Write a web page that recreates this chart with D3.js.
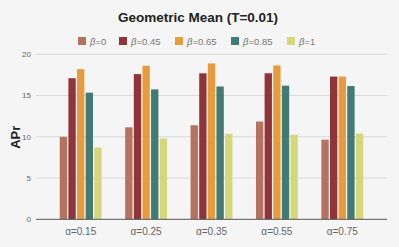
<!DOCTYPE html>
<html>
<head>
<meta charset="utf-8">
<script src="https://cdn.jsdelivr.net/npm/d3@7"></script>
<style>
  body { margin: 0; background: #f5f5f5; }
  svg { display: block; font-family: Arial, "Liberation Sans", sans-serif; }
</style>
</head>
<body>
<div id="chart"></div>
<script>
var categories = ['\u03b1=0.15', '\u03b1=0.25', '\u03b1=0.35', '\u03b1=0.55', '\u03b1=0.75'];
var seriesNames = ['0', '0.45', '0.65', '0.85', '1'];
var beta0 = [10.0, 11.15, 11.4, 11.85, 9.65];
var beta045 = [17.1, 17.6, 17.7, 17.7, 17.3];
var beta065 = [18.2, 18.6, 18.9, 18.65, 17.3];
var beta085 = [15.35, 15.75, 16.1, 16.2, 16.15];
var beta1 = [8.7, 9.8, 10.35, 10.25, 10.4];
var yTicks = [0, 5, 10, 15, 20];

var series = [beta0, beta045, beta065, beta085, beta1];
var colors = ['#b3735e', '#8f343b', '#e89b3c', '#427a74', '#d5d77a'];

var width = 399, height = 247;
var svg = d3.select('#chart').append('svg').attr('width', width).attr('height', height);
svg.append('rect').attr('width', width).attr('height', height).attr('fill', '#f5f5f5');

var axisLeft = 36, axisRight = 387;

var x = d3.scaleBand().domain(categories).range([48, 375]).paddingInner(0.36).paddingOuter(0.18);
var xs = d3.scaleBand().domain(d3.range(series.length)).range([0, x.bandwidth()]).paddingInner(0.15);
var y = d3.scaleLinear().domain([0, 20]).range([219.3, 54.3]);

// gridlines
svg.append('g').selectAll('line').data(yTicks.filter(function(d) { return d > 0; })).enter().append('line')
  .attr('x1', axisLeft).attr('x2', axisRight)
  .attr('y1', function(d) { return y(d); }).attr('y2', function(d) { return y(d); })
  .attr('stroke', '#d9d9d9').attr('stroke-width', 1);

// y tick labels
svg.append('g').selectAll('text').data(yTicks).enter().append('text')
  .attr('x', 31).attr('y', function(d) { return y(d); }).attr('dy', '0.35em')
  .attr('text-anchor', 'end').attr('font-size', 8).attr('fill', '#666')
  .text(function(d) { return d; });

// bars
var groups = svg.append('g').selectAll('g').data(categories).enter().append('g')
  .attr('transform', function(d) { return 'translate(' + x(d) + ',0)'; });

groups.selectAll('rect').data(function(d, i) {
  return series.map(function(s, j) { return { k: j, v: s[i] }; });
}).enter().append('rect')
  .attr('x', function(d) { return xs(d.k); })
  .attr('width', xs.bandwidth())
  .attr('y', function(d) { return y(d.v); })
  .attr('height', function(d) { return y(0) - y(d.v); })
  .attr('fill', function(d) { return colors[d.k]; });

// baseline
svg.append('line').attr('x1', axisLeft).attr('x2', axisRight)
  .attr('y1', y(0)).attr('y2', y(0)).attr('stroke', '#555').attr('stroke-width', 1);

// x labels
svg.append('g').selectAll('text').data(categories).enter().append('text')
  .attr('x', function(d) { return x(d) + x.bandwidth() / 2; }).attr('y', 235)
  .attr('text-anchor', 'middle').attr('font-size', 10).attr('fill', '#666')
  .text(function(d) { return d; });

// y title
svg.append('text').attr('transform', 'translate(19.5,' + (y(10) + 0.5) + ') rotate(-90)')
  .attr('text-anchor', 'middle').attr('font-size', 13).attr('font-weight', 'bold')
  .attr('fill', '#222').text('APr');

// title
svg.append('text').attr('x', 198).attr('y', 22).attr('text-anchor', 'middle')
  .attr('font-size', 13.5).attr('font-weight', 'bold').attr('fill', '#222')
  .text('Geometric Mean (T=0.01)');

// legend
var legendX = [78, 119, 175, 231, 287];
var legend = svg.append('g').selectAll('g').data(seriesNames).enter().append('g')
  .attr('transform', function(d, i) { return 'translate(' + legendX[i] + ',37)'; });
legend.append('rect').attr('width', 8).attr('height', 8)
  .attr('fill', function(d, i) { return colors[i]; });
var lt = legend.append('text').attr('x', 12).attr('y', 7.5).attr('font-size', 9.5).attr('fill', '#777');
lt.append('tspan').attr('font-style', 'italic').text('\u03b2');
lt.append('tspan').text(function(d) { return '=' + d; });
</script>
</body>
</html>
